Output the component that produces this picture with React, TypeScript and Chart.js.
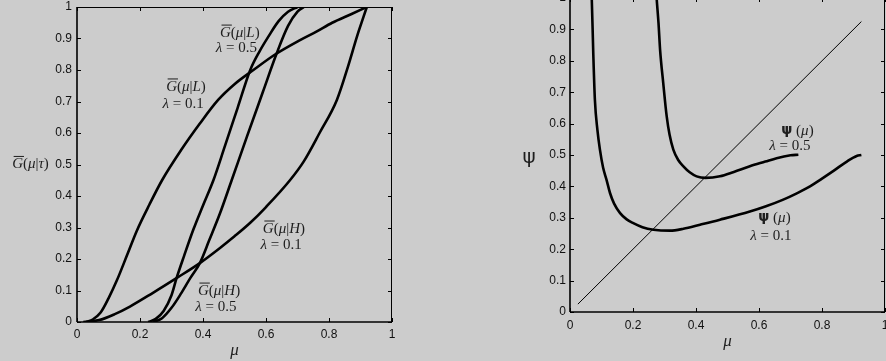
import React, { useEffect, useRef } from "react";
import { Chart, registerables } from "chart.js";

Chart.register(...registerables);

// ---------- Left panel data: G(mu | tau) ----------
const muGL01 = [0.03, 0.05, 0.075, 0.1, 0.127, 0.16, 0.19, 0.23, 0.27, 0.33, 0.39, 0.448, 0.5, 0.56, 0.63, 0.708, 0.76, 0.81, 0.87, 0.92];
const gL01 = [0, 0.008, 0.03, 0.075, 0.133, 0.215, 0.29, 0.373, 0.45, 0.545, 0.63, 0.705, 0.755, 0.8, 0.85, 0.895, 0.922, 0.95, 0.977, 1.0];

const muGH01 = [0.02, 0.07, 0.12, 0.168, 0.24, 0.317, 0.39, 0.454, 0.5, 0.55, 0.6, 0.676, 0.72, 0.77, 0.825, 0.86, 0.89, 0.91, 0.92];
const gH01 = [0, 0.006, 0.025, 0.049, 0.092, 0.14, 0.187, 0.235, 0.272, 0.315, 0.365, 0.45, 0.51, 0.6, 0.705, 0.81, 0.91, 0.97, 1.0];

const muGL05 = [0.226, 0.25, 0.275, 0.3, 0.316, 0.34, 0.37, 0.4, 0.433, 0.47, 0.51, 0.55, 0.58, 0.61, 0.64, 0.67, 0.7];
const gL05 = [0, 0.01, 0.035, 0.085, 0.139, 0.21, 0.295, 0.37, 0.45, 0.56, 0.68, 0.8, 0.86, 0.91, 0.955, 0.985, 1.0];

const muGH05 = [0.242, 0.27, 0.3, 0.33, 0.36, 0.39, 0.42, 0.454, 0.491, 0.54, 0.59, 0.634, 0.67, 0.7, 0.72];
const gH05 = [0, 0.012, 0.045, 0.09, 0.14, 0.187, 0.26, 0.345, 0.45, 0.59, 0.73, 0.853, 0.94, 0.985, 1.0];

// ---------- Right panel data: psi(mu) ----------
const muPsi01 = [0.066, 0.069, 0.074, 0.079, 0.087, 0.095, 0.105, 0.116, 0.127, 0.14, 0.159, 0.18, 0.201, 0.23, 0.265, 0.317, 0.36, 0.413, 0.476, 0.571, 0.62, 0.677, 0.72, 0.762, 0.8, 0.84, 0.88, 0.91, 0.925];
const psi01 = [1.05, 1.0, 0.82, 0.676, 0.58, 0.517, 0.46, 0.421, 0.379, 0.345, 0.315, 0.295, 0.283, 0.27, 0.262, 0.259, 0.265, 0.278, 0.294, 0.32, 0.336, 0.358, 0.378, 0.4, 0.425, 0.452, 0.48, 0.497, 0.5];

const muPsi05 = [0.272, 0.275, 0.281, 0.286, 0.296, 0.307, 0.316, 0.328, 0.343, 0.36, 0.38, 0.402, 0.43, 0.476, 0.52, 0.571, 0.62, 0.656, 0.7, 0.725];
const psi05 = [1.05, 1.0, 0.92, 0.835, 0.729, 0.623, 0.565, 0.517, 0.485, 0.464, 0.445, 0.432, 0.427, 0.432, 0.446, 0.464, 0.479, 0.49, 0.499, 0.501];

const muDiag = [0.025, 0.925];
const psiDiag = [0.025, 0.925];

// ---------- Tick labels ----------
const xTickLabels = ["0", "0.2", "0.4", "0.6", "0.8", "1"];
const yTickLabels = ["0", "0.1", "0.2", "0.3", "0.4", "0.5", "0.6", "0.7", "0.8", "0.9", "1"];

const BG = "#cccccc";
const IT = "italic 15px 'Liberation Serif'";
const RM = "15px 'Liberation Serif'";
const PSI = "bold 14px 'DejaVu Sans'";

type Part = { t: string; f: string; over?: boolean };
type Label = { x: number; y: number; parts: Part[] };

const pts = (xs: number[], ys: number[]) => xs.map((x, i) => ({ x, y: ys[i] }));

function drawParts(ctx: CanvasRenderingContext2D, parts: Part[], cx: number, cy: number) {
  let total = 0;
  const widths = parts.map((p) => {
    ctx.font = p.f;
    const w = ctx.measureText(p.t).width;
    total += w;
    return w;
  });
  let x = cx - total / 2;
  ctx.textBaseline = "middle";
  ctx.textAlign = "left";
  parts.forEach((p, i) => {
    ctx.font = p.f;
    ctx.fillText(p.t, x, cy);
    if (p.over) {
      const m = ctx.measureText(p.t);
      const top = cy - m.actualBoundingBoxAscent - 2.5;
      ctx.fillRect(x + 1.5, top, widths[i] - 0.5, 1);
    }
    x += widths[i];
  });
}

const framePlugin = {
  id: "frameAndText",
  afterDatasetsDraw(chart: any, _args: any, opts: any) {
    const { ctx, chartArea: a, scales } = chart;
    const xs = scales.x;
    const ys = scales.y;
    ctx.save();
    ctx.strokeStyle = "#000";
    ctx.lineWidth = 1;
    ctx.beginPath();
    ctx.moveTo(a.left, a.top + 0.5);
    ctx.lineTo(a.right, a.top + 0.5);
    ctx.moveTo(a.right - 0.5, a.top);
    ctx.lineTo(a.right - 0.5, a.bottom);
    ctx.stroke();
    ctx.lineWidth = 1.6;
    ctx.beginPath();
    ctx.moveTo(a.left, a.bottom);
    ctx.lineTo(a.right, a.bottom);
    ctx.moveTo(a.left, a.top);
    ctx.lineTo(a.left, a.bottom);
    ctx.stroke();
    ctx.lineWidth = 1;
    const tl = 4;
    ctx.beginPath();
    xs.ticks.forEach((t: any) => {
      const px = Math.round(xs.getPixelForValue(t.value)) + 0.5;
      ctx.moveTo(px, a.bottom);
      ctx.lineTo(px, a.bottom - tl);
      ctx.moveTo(px, a.top);
      ctx.lineTo(px, a.top + tl);
    });
    ys.ticks.forEach((t: any) => {
      const py = Math.round(ys.getPixelForValue(t.value)) + 0.5;
      ctx.moveTo(a.left, py);
      ctx.lineTo(a.left + tl, py);
      ctx.moveTo(a.right, py);
      ctx.lineTo(a.right - tl, py);
    });
    ctx.stroke();

    ctx.fillStyle = "#1e1e1e";
    (opts.labels as Label[]).forEach((l) => {
      drawParts(ctx, l.parts, xs.getPixelForValue(l.x), ys.getPixelForValue(l.y));
    });
    const yt = opts.yTitle;
    drawParts(ctx, yt.parts, a.left - yt.dx, ys.getPixelForValue(yt.y));
    ctx.restore();
  },
};

function tickLabel(labels: string[], step: number) {
  return (v: any) => {
    const i = Math.round(Number(v) / step);
    return labels[i] ?? "";
  };
}

function makeOptions(cfg: {
  yWidth: number;
  xHeight: number;
  pad: { left: number; right: number; top: number; bottom: number };
  xPad: number;
  yPad: number;
  labels: Label[];
  yTitle: any;
}) {
  const tickFont = { family: "'Liberation Sans', Arial, sans-serif", size: 12 };
  return {
    responsive: false,
    animation: false as const,
    devicePixelRatio: 1,
    layout: { padding: cfg.pad, autoPadding: false },
    plugins: {
      legend: { display: false },
      tooltip: { enabled: false },
      frameAndText: { labels: cfg.labels, yTitle: cfg.yTitle },
    },
    elements: { point: { radius: 0 } },
    scales: {
      x: {
        type: "linear" as const,
        min: 0,
        max: 1,
        grid: { display: false, drawTicks: false },
        border: { display: false },
        ticks: {
          stepSize: 0.2,
          autoSkip: false,
          maxRotation: 0,
          padding: cfg.xPad,
          color: "#111",
          font: tickFont,
          callback: tickLabel(xTickLabels, 0.2),
        },
        title: {
          display: true,
          text: "μ",
          color: "#222",
          padding: 0,
          font: { family: "'Liberation Serif', serif", style: "italic" as const, size: 17 },
        },
        afterFit(s: any) {
          s.height = cfg.xHeight;
          s.paddingLeft = 0;
          s.paddingRight = 0;
        },
      },
      y: {
        type: "linear" as const,
        min: 0,
        max: 1,
        grid: { display: false, drawTicks: false },
        border: { display: false },
        ticks: {
          stepSize: 0.1,
          autoSkip: false,
          padding: cfg.yPad,
          color: "#111",
          font: tickFont,
          callback: tickLabel(yTickLabels, 0.1),
        },
        afterFit(s: any) {
          s.width = cfg.yWidth;
          s.paddingTop = 0;
          s.paddingBottom = 0;
        },
      },
    },
  };
}

const lineDs = (data: { x: number; y: number }[], width = 2.6) => ({
  data,
  showLine: true,
  borderColor: "#000",
  borderWidth: width,
  pointRadius: 0,
  cubicInterpolationMode: "monotone" as const,
  fill: false,
});

const gOver = (sym: string): Part[] => [
  { t: "G", f: IT, over: true },
  { t: "(", f: RM },
  { t: "μ", f: IT },
  { t: "|", f: RM },
  { t: sym, f: IT },
  { t: ")", f: RM },
];
const lam = (v: string): Part[] => [
  { t: "λ", f: IT },
  { t: " = ", f: RM },
  { t: v, f: RM },
];
const psiMu: Part[] = [
  { t: "ψ", f: PSI },
  { t: " (", f: RM },
  { t: "μ", f: IT },
  { t: ")", f: RM },
];

export default function App() {
  const leftRef = useRef<HTMLCanvasElement>(null);
  const rightRef = useRef<HTMLCanvasElement>(null);

  useEffect(() => {
    const left = new Chart(leftRef.current!, {
      type: "scatter",
      data: {
        datasets: [
          lineDs(pts(muGL01, gL01)),
          lineDs(pts(muGH01, gH01)),
          lineDs(pts(muGL05, gL05)),
          lineDs(pts(muGH05, gH05)),
        ],
      },
      options: makeOptions({
        yWidth: 77,
        xHeight: 39,
        pad: { left: 0, right: 51, top: 7, bottom: 0 },
        xPad: 5,
        yPad: 5,
        labels: [
          { x: 0.346, y: 0.746, parts: gOver("L") },
          { x: 0.337, y: 0.692, parts: lam("0.1") },
          { x: 0.517, y: 0.917, parts: gOver("L") },
          { x: 0.506, y: 0.87, parts: lam("0.5") },
          { x: 0.657, y: 0.295, parts: gOver("H") },
          { x: 0.648, y: 0.244, parts: lam("0.1") },
          { x: 0.451, y: 0.098, parts: gOver("H") },
          { x: 0.441, y: 0.049, parts: lam("0.5") },
        ],
        yTitle: { dx: 46.5, y: 0.5, parts: gOver("τ") },
      }) as any,
      plugins: [framePlugin],
    });

    const right = new Chart(rightRef.current!, {
      type: "scatter",
      data: {
        datasets: [
          lineDs(pts(muPsi01, psi01)),
          lineDs(pts(muPsi05, psi05)),
          lineDs(pts(muDiag, psiDiag), 1),
        ],
      },
      options: makeOptions({
        yWidth: 127,
        xHeight: 40,
        pad: { left: 0, right: 21, top: 8, bottom: 19 },
        xPad: 6,
        yPad: 4,
        labels: [
          { x: 0.722, y: 0.577, parts: psiMu },
          { x: 0.698, y: 0.53, parts: lam("0.5") },
          { x: 0.649, y: 0.3, parts: psiMu },
          { x: 0.638, y: 0.243, parts: lam("0.1") },
        ],
        yTitle: { dx: 41, y: 0.491, parts: [{ t: "ψ", f: "20px 'DejaVu Sans'" }] },
      }) as any,
      plugins: [framePlugin],
    });

    return () => {
      left.destroy();
      right.destroy();
    };
  }, []);

  return (
    <div
      style={{
        position: "fixed",
        left: 0,
        top: 0,
        width: 886,
        height: 361,
        overflow: "hidden",
        background: BG,
      }}
    >
      <canvas
        ref={leftRef}
        width={443}
        height={361}
        style={{ position: "absolute", left: 0, top: 0, width: 443, height: 361 }}
      />
      <canvas
        ref={rightRef}
        width={463}
        height={381}
        style={{ position: "absolute", left: 443, top: -10, width: 463, height: 381 }}
      />
    </div>
  );
}
